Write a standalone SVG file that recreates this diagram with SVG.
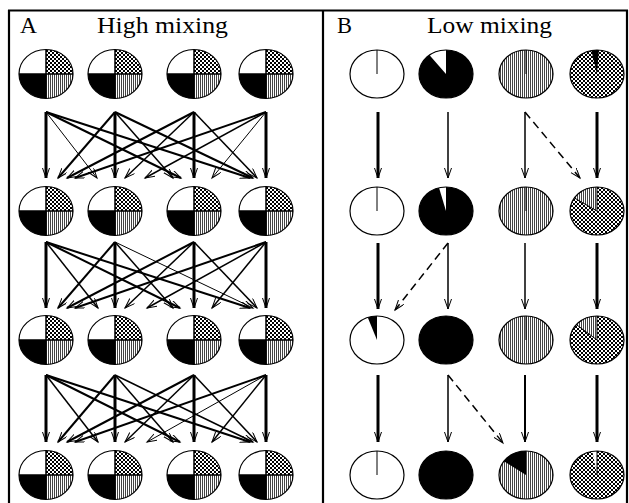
<svg xmlns="http://www.w3.org/2000/svg" xmlns:xlink="http://www.w3.org/1999/xlink" width="629" height="503" viewBox="0 0 629 503">
<style>
.ol{fill:none;stroke:#000;stroke-width:1.2}
.dv{fill:none;stroke:#000;stroke-width:1.5}
.ln{stroke:#000;stroke-width:1}
.ar{fill:none;stroke:#000;marker-end:url(#ah)}
.w1{stroke-width:1}.w15{stroke-width:1.5}.w2{stroke-width:2}.w3{stroke-width:3}
.dash{stroke-dasharray:8 5;stroke-width:1.5}
.fr{stroke:#000;stroke-width:2.2;fill:none}
.t{font-family:"Liberation Serif","Times New Roman",serif;font-size:23px;fill:#000}
</style>
<defs>
<pattern id="chk" width="4" height="4" patternUnits="userSpaceOnUse"><rect width="4" height="4" fill="#fff"/><rect width="2" height="2" fill="#000"/><rect x="2" y="2" width="2" height="2" fill="#000"/></pattern>
<pattern id="str" width="2" height="4" patternUnits="userSpaceOnUse"><rect width="2" height="4" fill="#fff"/><rect width="1" height="4" fill="#444"/></pattern>
<marker id="ah" markerUnits="userSpaceOnUse" markerWidth="12" markerHeight="8" refX="10" refY="3.5" orient="auto"><path d="M0,0 L10,3.5 L0,7" fill="none" stroke="#000" stroke-width="1"/></marker>
<g id="pieA">
<ellipse rx="27" ry="24.5" fill="#fff"/>
<path d="M0,0 L0,-24.5 A27,24.5 0 0 1 27,0 Z" fill="url(#chk)"/>
<path d="M0,0 L27,0 A27,24.5 0 0 1 0,24.5 Z" fill="url(#str)"/>
<path d="M0,0 L0,24.5 A27,24.5 0 0 1 -27,0 Z" fill="#000"/>
<path d="M-27,0 H27 M0,-24.5 V24.5" class="dv"/>
<ellipse rx="27" ry="24.5" class="ol"/>
</g>
</defs>
<rect width="629" height="503" fill="#fff"/>
<g id="frame">
<path class="fr" d="M8,10.5 H628 M9,10 V503 M323,10 V503 M627,10 V503"/>
</g>
<g id="titles">
<text class="t" x="20" y="33" textLength="17" lengthAdjust="spacingAndGlyphs">A</text>
<text class="t" x="97" y="33" textLength="131" lengthAdjust="spacingAndGlyphs">High mixing</text>
<text class="t" x="337" y="33" textLength="15" lengthAdjust="spacingAndGlyphs">B</text>
<text class="t" x="427" y="33" textLength="125" lengthAdjust="spacingAndGlyphs">Low mixing</text>
</g>
<g id="panelA-nodes">
<g id="a-r1-c1"><use href="#pieA" x="46" y="74"/></g>
<g id="a-r1-c2"><use href="#pieA" x="115" y="74"/></g>
<g id="a-r1-c3"><use href="#pieA" x="194" y="74"/></g>
<g id="a-r1-c4"><use href="#pieA" x="266" y="74"/></g>
<g id="a-r2-c1"><use href="#pieA" x="46" y="211"/></g>
<g id="a-r2-c2"><use href="#pieA" x="115" y="211"/></g>
<g id="a-r2-c3"><use href="#pieA" x="194" y="211"/></g>
<g id="a-r2-c4"><use href="#pieA" x="266" y="211"/></g>
<g id="a-r3-c1"><use href="#pieA" x="46" y="340"/></g>
<g id="a-r3-c2"><use href="#pieA" x="115" y="340"/></g>
<g id="a-r3-c3"><use href="#pieA" x="194" y="340"/></g>
<g id="a-r3-c4"><use href="#pieA" x="266" y="340"/></g>
<g id="a-r4-c1"><use href="#pieA" x="46" y="475"/></g>
<g id="a-r4-c2"><use href="#pieA" x="115" y="475"/></g>
<g id="a-r4-c3"><use href="#pieA" x="194" y="475"/></g>
<g id="a-r4-c4"><use href="#pieA" x="266" y="475"/></g>
</g>
<g id="panelB-nodes">
<g id="b-r1-c1" transform="translate(377,74)"><ellipse rx="27" ry="24" fill="#fff"/><line class="ln" x1="0" y1="0" x2="0" y2="-24"/><ellipse class="ol" rx="27" ry="24"/></g>
<g id="b-r1-c2" transform="translate(446,74)"><ellipse rx="27" ry="24" fill="#000"/><path d="M0,0 L0,-24 A27,24 0 0 0 -16.62,-18.91 Z" fill="#fff"/><ellipse class="ol" rx="27" ry="24"/></g>
<g id="b-r1-c3" transform="translate(526,74)"><ellipse rx="27" ry="24" fill="url(#str)"/><line class="ln" x1="0" y1="0" x2="0" y2="-24"/><ellipse class="ol" rx="27" ry="24"/></g>
<g id="b-r1-c4" transform="translate(597,74)"><ellipse rx="27" ry="24" fill="url(#chk)"/><path d="M0,0 L1.88,-23.94 A27,24 0 0 0 -5.61,-23.48 Z" fill="#000"/><ellipse class="ol" rx="27" ry="24"/></g>

<g id="b-r2-c1" transform="translate(377,211)"><ellipse rx="27" ry="24" fill="#fff"/><line class="ln" x1="0" y1="0" x2="0" y2="-24"/><ellipse class="ol" rx="27" ry="24"/></g>
<g id="b-r2-c2" transform="translate(446,211)"><ellipse rx="27" ry="24" fill="#000"/><path d="M0,0 L0,-24 A27,24 0 0 0 -6.99,-23.18 Z" fill="#fff"/><ellipse class="ol" rx="27" ry="24"/></g>
<g id="b-r2-c3" transform="translate(526,211)"><ellipse rx="27" ry="24" fill="url(#str)"/><line class="ln" x1="0" y1="0" x2="0" y2="-24"/><ellipse class="ol" rx="27" ry="24"/></g>
<g id="b-r2-c4" transform="translate(597,211)"><ellipse rx="27" ry="24" fill="url(#chk)"/><path d="M0,0 L0,-24 A27,24 0 0 0 -22.64,-13.07 Z" fill="url(#str)"/><path class="ln" d="M0,-24 V0 L-22.64,-13.07" fill="none"/><ellipse class="ol" rx="27" ry="24"/></g>

<g id="b-r3-c1" transform="translate(377,340)"><ellipse rx="27" ry="24" fill="#fff"/><path d="M0,0 L0,-24 A27,24 0 0 0 -9.23,-22.55 Z" fill="#000"/><ellipse class="ol" rx="27" ry="24"/></g>
<g id="b-r3-c2" transform="translate(446,340)"><ellipse rx="27" ry="24" fill="#000"/><ellipse class="ol" rx="27" ry="24"/></g>
<g id="b-r3-c3" transform="translate(526,340)"><ellipse rx="27" ry="24" fill="url(#str)"/><line class="ln" x1="0" y1="0" x2="0" y2="-24"/><ellipse class="ol" rx="27" ry="24"/></g>
<g id="b-r3-c4" transform="translate(597,340)"><ellipse rx="27" ry="24" fill="url(#chk)"/><path d="M0,0 L0,-24 A27,24 0 0 0 -20.68,-15.43 Z" fill="url(#str)"/><path class="ln" d="M0,-24 V0 L-20.68,-15.43" fill="none"/><ellipse class="ol" rx="27" ry="24"/></g>

<g id="b-r4-c1" transform="translate(377,475)"><ellipse rx="27" ry="24" fill="#fff"/><line class="ln" x1="0" y1="0" x2="0" y2="-24"/><ellipse class="ol" rx="27" ry="24"/></g>
<g id="b-r4-c2" transform="translate(446,475)"><ellipse rx="27" ry="24" fill="#000"/><ellipse class="ol" rx="27" ry="24"/></g>
<g id="b-r4-c3" transform="translate(526,475)"><ellipse rx="27" ry="24" fill="url(#str)"/><path d="M0,0 L0,-24 A27,24 0 0 0 -22.12,-13.77 Z" fill="#000"/><ellipse class="ol" rx="27" ry="24"/></g>
<g id="b-r4-c4" transform="translate(597,475)"><ellipse rx="27" ry="24" fill="url(#chk)"/><path d="M0,0 L0,-24 A27,24 0 0 0 -4.69,-23.64 Z" fill="#fff"/><line class="ln" x1="0" y1="0" x2="0" y2="-24"/><ellipse class="ol" rx="27" ry="24"/></g>
</g>
<g id="connectors">
<g id="connA-1">
<path class="ar w3" d="M46,112 L46,178"/>
<path class="ar w1" d="M46,112 L97,178"/>
<path class="ar w2" d="M46,112 L181,178"/>
<path class="ar w2" d="M46,112 L250,178"/>
<path class="ar w2" d="M115,112 L58,178"/>
<path class="ar w3" d="M115,112 L115,178"/>
<path class="ar w15" d="M115,112 L173,178"/>
<path class="ar w2" d="M115,112 L253,178"/>
<path class="ar w2" d="M194,112 L67,178"/>
<path class="ar w15" d="M194,112 L125,178"/>
<path class="ar w3" d="M194,112 L194,178"/>
<path class="ar w15" d="M194,112 L257,178"/>
<path class="ar w2" d="M266,112 L75,178"/>
<path class="ar w15" d="M266,112 L145,178"/>
<path class="ar w1" d="M266,112 L212,178"/>
<path class="ar w3" d="M266,112 L266,178"/>
</g>
<g id="connA-2">
<path class="ar w3" d="M46,242 L46,308"/>
<path class="ar w15" d="M46,242 L98,308"/>
<path class="ar w2" d="M46,242 L180,308"/>
<path class="ar w2" d="M46,242 L250,308"/>
<path class="ar w2" d="M115,242 L58,308"/>
<path class="ar w3" d="M115,242 L115,308"/>
<path class="ar w15" d="M115,242 L173,308"/>
<path class="ar w1" d="M115,242 L253,308"/>
<path class="ar w2" d="M194,242 L67,308"/>
<path class="ar w15" d="M194,242 L125,308"/>
<path class="ar w3" d="M194,242 L194,308"/>
<path class="ar w15" d="M194,242 L257,308"/>
<path class="ar w2" d="M266,242 L75,308"/>
<path class="ar w15" d="M266,242 L147,308"/>
<path class="ar w15" d="M266,242 L212,308"/>
<path class="ar w3" d="M266,242 L266,308"/>
</g>
<g id="connA-3">
<path class="ar w3" d="M46,375 L46,442"/>
<path class="ar w15" d="M46,375 L98,442"/>
<path class="ar w2" d="M46,375 L180,442"/>
<path class="ar w2" d="M46,375 L250,442"/>
<path class="ar w2" d="M115,375 L58,442"/>
<path class="ar w3" d="M115,375 L115,442"/>
<path class="ar w15" d="M115,375 L173,442"/>
<path class="ar w15" d="M115,375 L253,442"/>
<path class="ar w2" d="M194,375 L67,442"/>
<path class="ar w15" d="M194,375 L125,442"/>
<path class="ar w3" d="M194,375 L194,442"/>
<path class="ar w15" d="M194,375 L257,442"/>
<path class="ar w2" d="M266,375 L75,442"/>
<path class="ar w1" d="M266,375 L147,442"/>
<path class="ar w15" d="M266,375 L212,442"/>
<path class="ar w3" d="M266,375 L266,442"/>
</g>
<g id="connB">
<path class="ar w3" d="M378,112 L378,178"/>
<path class="ar w15" d="M448,112 L448,178"/>
<path class="ar w15" d="M525,112 L525,178"/>
<path class="ar w3" d="M597,112 L597,178"/>
<path class="ar dash" d="M525,112 L580,178"/>
<path class="ar w3" d="M378,243 L378,309"/>
<path class="ar w15" d="M448,243 L448,309"/>
<path class="ar w15" d="M525,243 L525,309"/>
<path class="ar w3" d="M597,243 L597,309"/>
<path class="ar dash" d="M448,243 L395,310"/>
<path class="ar w3" d="M378,375 L378,442"/>
<path class="ar w15" d="M448,375 L448,442"/>
<path class="ar w2" d="M525,375 L525,442"/>
<path class="ar w3" d="M597,375 L597,442"/>
<path class="ar dash" d="M448,375 L503,443"/>
</g>
</g>
</svg>
